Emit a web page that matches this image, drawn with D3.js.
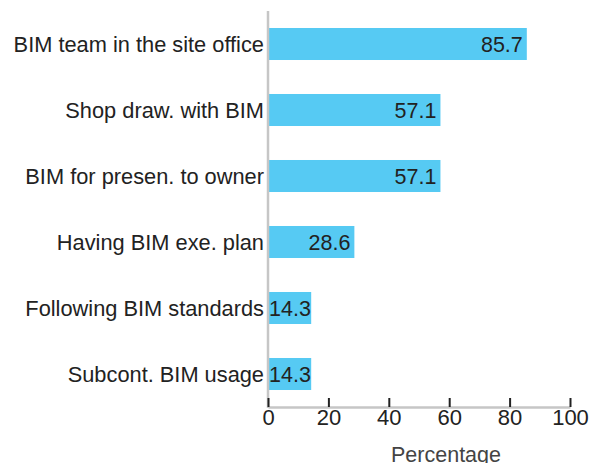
<!DOCTYPE html>
<html><head><meta charset="utf-8">
<script src="https://cdn.jsdelivr.net/npm/d3@7"></script>
<style>body{margin:0;background:#fff}text{font-family:"Liberation Sans",Arial,sans-serif}</style>
</head><body><svg id="c" width="593" height="463"></svg>
<script>
const categories = ["BIM team in the site office","Shop draw. with BIM","BIM for presen. to owner","Having BIM exe. plan","Following BIM standards","Subcont. BIM usage"];
const values = [85.7, 57.1, 57.1, 28.6, 14.3, 14.3];
const xTicks = [0, 20, 40, 60, 80, 100];
const xTitle = "Percentage";

const svg = d3.select("#c");
const x0 = 268, x1 = 570, yTop = 11, yBot = 407;
const x = d3.scaleLinear().domain([0, 100]).range([x0, x1]);
const y = d3.scaleBand().domain(categories).range([yTop, yBot]).paddingInner(0.515).paddingOuter(0.2575);

svg.selectAll("rect.bar").data(values).join("rect").attr("class","bar")
  .attr("x", x(0)).attr("y", (d,i)=>y(categories[i])).attr("width", d=>x(d)-x(0))
  .attr("height", y.bandwidth()).attr("fill", "#56caf3");

// y axis line
svg.append("line").attr("x1", x0).attr("x2", x0).attr("y1", 11).attr("y2", yBot+1)
  .attr("stroke", "#c6c6c6").attr("stroke-width", 2.5);

// category labels
svg.selectAll("text.cat").data(categories).join("text").attr("class","cat")
  .attr("x", x0-4).attr("y", d=>y(d)+y.bandwidth()/2).attr("dy","0.35em")
  .attr("text-anchor","end").attr("font-size", 21.8).attr("fill","#222").text(d=>d);

// value labels
const vl = svg.selectAll("text.val").data(values).join("text").attr("class","val")
  .attr("y", (d,i)=>y(categories[i])+y.bandwidth()/2).attr("dy","0.36em")
  .attr("text-anchor","end").attr("font-size", 21.5).attr("fill","#222").text(d=>d.toFixed(1));
vl.each(function(d){
  const w = this.getComputedTextLength();
  d3.select(this).attr("x", Math.max(x(d)-4, x0+1+w));
});

// x axis
const ax = svg.append("g").attr("transform", `translate(0,${yBot})`)
  .call(d3.axisBottom(x).tickValues(xTicks).tickSize(0).tickPadding(2).tickFormat(d3.format("d")));
ax.select(".domain").attr("stroke","#c6c6c6").attr("stroke-width",2.5);
ax.selectAll(".tick text").attr("font-size",22).attr("fill","#222").attr("font-family","Liberation Sans, Arial, sans-serif");
ax.selectAll(".tick").append("line").attr("y1",-9).attr("y2",0).attr("stroke","#222").attr("stroke-width",2);

svg.append("text").attr("x", 446).attr("y", 462).attr("text-anchor","middle")
  .attr("font-size",21.5).attr("fill","#444").text(xTitle);
</script></body></html>
